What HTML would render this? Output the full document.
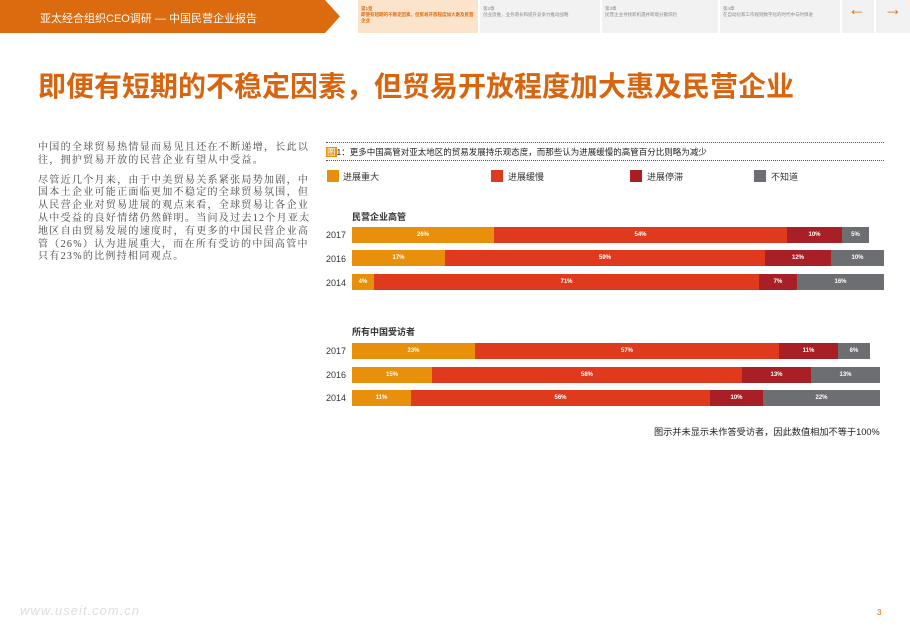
<!DOCTYPE html>
<html><head><meta charset="utf-8"><style>
*{margin:0;padding:0;box-sizing:border-box}
body{width:910px;height:630px;background:#fff;position:relative;overflow:hidden;font-family:"Liberation Sans","Noto Sans CJK SC",sans-serif;color:#333}
.abs{position:absolute}
.hdr{left:0;top:0;width:340px;height:33px;background:#dc6a0f;clip-path:polygon(0 0,325px 0,340px 16.5px,325px 33px,0 33px)}
.hdr span{position:absolute;left:40px;top:10px;color:#fff;font-size:11px}
.tab{top:0;height:33px;background:#f2f2f2;font-size:4.5px;color:#888;padding:6px 3px;line-height:6px}
.bar{position:absolute;left:352px;height:16px;display:flex}
.bar div{height:100%;color:#fff;font-size:6px;font-weight:bold;display:flex;align-items:center;justify-content:center}
.o{background:#e8900c}.r{background:#e03a1e}.d{background:#a82025}.g{background:#6d6e71}
.yr{position:absolute;left:326px;font-size:9px;color:#333}
.lg{position:absolute;top:170px;width:12px;height:12px}
.lt{position:absolute;top:170px;font-size:9px}
</style></head><body>
<div class="abs hdr"><span>亚太经合组织CEO调研 — 中国民营企业报告</span></div>
<div class="abs" style="left:325px;top:6px;font-size:18px;color:#dc6a0f">⌂</div>
<div class="abs tab" style="left:358px;width:120px;background:#fbe3cc;color:#dc6a0f;font-weight:bold">第1章<br>即便有短期的不稳定因素，但贸易开放程度加大惠及民营企业</div>
<div class="abs tab" style="left:480px;width:120px">第2章<br>创业思维，业务增长和提升竞争力推动战略</div>
<div class="abs tab" style="left:602px;width:116px">第3章<br>民营企业寻找新机遇并跨境分散风险</div>
<div class="abs tab" style="left:720px;width:120px">第4章<br>在自动化和工作规则数字化的时代中与时俱进</div>
<div class="abs tab" style="left:842px;width:32px;font-size:18px;color:#dc6a0f;padding:6px 6px">←</div>
<div class="abs tab" style="left:876px;width:34px;font-size:18px;color:#dc6a0f;padding:6px 8px">→</div>
<div class="abs" style="left:38px;top:65px;font-size:28px;font-weight:bold;color:#d9640e;white-space:nowrap">即便有短期的不稳定因素，但贸易开放程度加大惠及民营企业</div>
<div class="abs" style="left:38px;top:142px;width:282px;font-size:10px;letter-spacing:1.3px;line-height:12.8px;color:#444;font-family:'Liberation Serif','Noto Serif CJK SC',serif">
<p>中国的全球贸易热情显而易见且还在不断递增，长此以往，拥护贸易开放的民营企业有望从中受益。</p>
<p style="margin-top:7px">尽管近几个月来，由于中美贸易关系紧张局势加剧，中国本土企业可能正面临更加不稳定的全球贸易氛围，但从民营企业对贸易进展的观点来看，全球贸易让各企业从中受益的良好情绪仍然鲜明。当问及过去12个月亚太地区自由贸易发展的速度时，有更多的中国民营企业高管（26%）认为进展重大，而在所有受访的中国高管中只有23%的比例持相同观点。</p></div>
<div class="abs" style="left:326px;top:142px;width:558px;border-top:1px dotted #555"></div>
<div class="abs" style="left:326px;top:146px;font-size:8.5px;color:#222;white-space:nowrap"><span style="background:#e8900c;color:#fff;padding:0 1px">图</span>1：更多中国高管对亚太地区的贸易发展持乐观态度，而那些认为进展缓慢的高管百分比则略为减少</div>
<div class="abs" style="left:326px;top:160px;width:558px;border-top:1px dotted #555"></div>
<div class="lg o" style="left:327px"></div><div class="lt" style="left:343px">进展重大</div>
<div class="lg r" style="left:491px"></div><div class="lt" style="left:508px">进展缓慢</div>
<div class="lg d" style="left:630px"></div><div class="lt" style="left:647px">进展停滞</div>
<div class="lg g" style="left:754px"></div><div class="lt" style="left:771px">不知道</div>
<div class="abs" style="left:352px;top:210px;font-size:9px;font-weight:bold">民营企业高管</div>
<div class="yr" style="top:230px">2017</div>
<div class="bar" style="top:227px"><div class="o" style="width:142px">26%</div><div class="r" style="width:293px">54%</div><div class="d" style="width:55px">10%</div><div class="g" style="width:27px">5%</div></div>
<div class="yr" style="top:254px">2016</div>
<div class="bar" style="top:250px"><div class="o" style="width:93px">17%</div><div class="r" style="width:320px">59%</div><div class="d" style="width:66px">12%</div><div class="g" style="width:53px">10%</div></div>
<div class="yr" style="top:278px">2014</div>
<div class="bar" style="top:274px"><div class="o" style="width:22px">4%</div><div class="r" style="width:385px">71%</div><div class="d" style="width:38px">7%</div><div class="g" style="width:87px">16%</div></div>
<div class="abs" style="left:352px;top:325px;font-size:9px;font-weight:bold">所有中国受访者</div>
<div class="yr" style="top:346px">2017</div>
<div class="bar" style="top:343px"><div class="o" style="width:123px">23%</div><div class="r" style="width:304px">57%</div><div class="d" style="width:59px">11%</div><div class="g" style="width:32px">6%</div></div>
<div class="yr" style="top:370px">2016</div>
<div class="bar" style="top:367px"><div class="o" style="width:80px">15%</div><div class="r" style="width:310px">58%</div><div class="d" style="width:69px">13%</div><div class="g" style="width:69px">13%</div></div>
<div class="yr" style="top:393px">2014</div>
<div class="bar" style="top:390px"><div class="o" style="width:59px">11%</div><div class="r" style="width:299px">56%</div><div class="d" style="width:53px">10%</div><div class="g" style="width:117px">22%</div></div>
<div class="abs" style="left:654px;top:424px;font-size:9.2px;color:#222;white-space:nowrap">图示并未显示未作答受访者，因此数值相加不等于100%</div>
<div class="abs" style="left:20px;top:603px;font-size:13px;color:#ddd;font-style:italic;letter-spacing:1px">www.useit.com.cn</div>
<div class="abs" style="left:877px;top:608px;font-size:8px;color:#dc6a0f">3</div>
</body></html>
